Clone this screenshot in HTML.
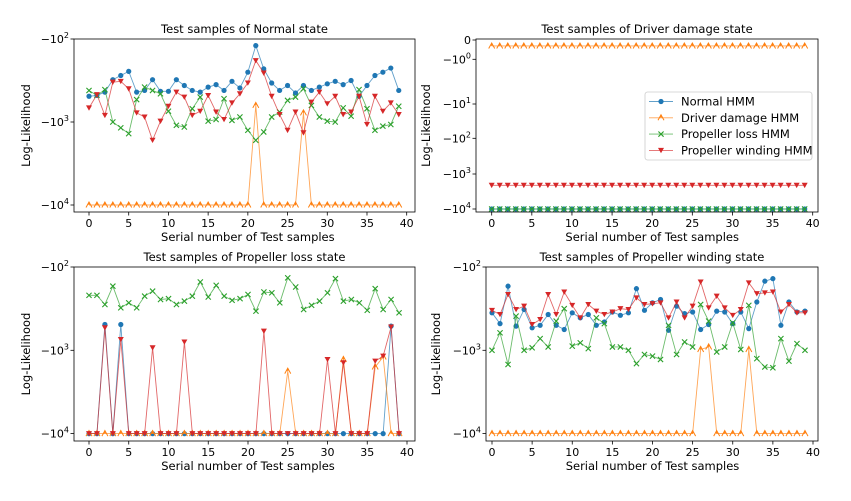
<!DOCTYPE html>
<html><head><meta charset="utf-8"><style>
html,body{margin:0;padding:0;background:#fff;}
svg{display:block;font-family:"DejaVu Sans","Liberation Sans",sans-serif;}
</style></head><body>
<svg id="fig" width="851" height="501" viewBox="0 0 851 501" xmlns="http://www.w3.org/2000/svg"></svg>
<script>
// x categories: serial number of test samples
const samples = Array.from({length:40},(_, i)=>i);
const xTicks = [0,5,10,15,20,25,30,35,40];
// Panel 1: Normal state (values are log10 of -LogLikelihood)
const p1Normal = [2.69,2.68,2.64,2.49,2.44,2.39,2.64,2.62,2.49,2.63,2.63,2.49,2.56,2.62,2.64,2.58,2.55,2.62,2.51,2.59,2.40,2.08,2.36,2.53,2.62,2.56,2.65,2.56,2.62,2.58,2.54,2.51,2.55,2.50,2.69,2.56,2.44,2.40,2.35,2.62];
const p1Driver = [4,4,4,4,4,4,4,4,4,4,4,4,4,4,4,4,4,4,4,4,4,2.80,4,4,4,4,4,2.89,4,4,4,4,4,4,4,4,4,4,4,4];
const p1Loss = [2.62,2.68,2.61,3.00,3.07,3.14,2.73,2.58,2.62,2.66,2.87,3.04,3.06,2.84,2.70,2.99,2.97,2.72,2.98,2.94,3.10,3.22,3.12,2.94,2.88,2.74,2.70,2.60,2.80,2.94,2.99,3.00,2.83,2.93,2.61,2.84,3.10,3.05,3.03,2.81];
const p1Winding = [2.83,2.67,2.92,2.52,2.51,2.60,2.89,2.94,3.22,2.99,2.81,2.64,2.70,2.92,2.87,2.68,2.88,2.97,2.77,2.66,2.53,2.26,2.41,2.69,2.91,3.10,2.88,3.13,2.76,2.64,2.78,2.69,2.91,2.88,2.69,3.03,2.69,2.87,2.77,2.91];
// Panel 2: Driver damage state (raw log-likelihood values)
const p2Normal = Array(40).fill(-10000);
const p2Driver = Array(40).fill(-0.31);
const p2Loss = Array(40).fill(-10000);
const p2Winding = Array(40).fill(-2100);
// Panel 3: Propeller loss state (log10 of -LL)
const p3Normal = [4,4,2.69,4,2.69,4,4,4,4,4,4,4,4,4,4,4,4,4,4,4,4,4,4,4,4,4,4,4,4,4,4,4,4,4,4,4,4,4,2.71,4];
const p3Driver = [4,4,4,4,4,4,4,4,4,4,4,4,4,4,4,4,4,4,4,4,4,4,4,4,4,3.25,4,4,4,4,4,4,3.11,4,4,4,3.20,3.08,4,4];
const p3Loss = [2.34,2.34,2.45,2.23,2.49,2.43,2.49,2.35,2.29,2.39,2.38,2.45,2.41,2.35,2.18,2.36,2.22,2.35,2.40,2.38,2.33,2.53,2.30,2.31,2.43,2.13,2.24,2.51,2.46,2.41,2.31,2.14,2.41,2.39,2.43,2.52,2.26,2.51,2.39,2.55];
const p3Winding = [4,4,2.73,4,2.87,4,4,4,2.97,4,4,4,2.90,4,4,4,4,4,4,4,4,4,2.77,4,4,4,4,4,4,4,3.11,4,3.15,4,4,4,3.13,3.07,2.72,4];
// Panel 4: Propeller winding state (log10 of -LL)
const p4Normal = [2.55,2.68,2.23,2.71,2.51,2.73,2.70,2.57,2.70,2.75,2.55,2.61,2.57,2.70,2.66,2.54,2.58,2.55,2.26,2.52,2.43,2.39,2.76,2.47,2.56,2.54,2.75,2.69,2.53,2.54,2.68,2.54,2.74,2.42,2.17,2.14,2.70,2.42,2.54,2.53];
const p4Driver = [4,4,4,4,4,4,4,4,4,4,4,4,4,4,4,4,4,4,4,4,4,4,4,4,4,4,2.99,2.96,4,4,4,4,2.99,4,4,4,4,4,4,4];
const p4Loss = [3.00,2.79,3.17,2.59,3.00,2.97,2.86,2.96,2.65,2.50,2.95,2.91,2.98,2.61,2.68,2.96,2.96,3.00,3.16,3.05,3.07,3.11,2.70,3.05,2.90,2.96,2.45,2.65,3.02,2.96,2.67,2.99,2.46,3.10,3.20,3.21,2.86,3.13,2.92,3.00];
const p4Winding = [2.52,2.57,2.33,2.51,2.47,2.69,2.63,2.33,2.57,2.30,2.46,2.61,2.45,2.53,2.57,2.54,2.50,2.51,2.37,2.45,2.44,2.43,2.61,2.42,2.61,2.47,2.18,2.49,2.35,2.49,2.58,2.51,2.19,2.32,2.31,2.30,2.54,2.45,2.55,2.55];
const seriesNames = ["Normal HMM","Driver damage HMM","Propeller loss HMM","Propeller winding HMM"];

const NS="http://www.w3.org/2000/svg";
const svg=document.getElementById('fig');
const COLORS=["#1f77b4","#ff7f0e","#2ca02c","#d62728"];
function mk(tag,attrs,parent){const e=document.createElementNS(NS,tag);for(const k in attrs)e.setAttribute(k,attrs[k]);(parent||svg).appendChild(e);return e;}

function logMap(y2,y3){return e=>y2+(e-2)*(y3-y2);}
function p2Map(v){const m=-v;if(m<=1)return 40+m*19.3;const e=Math.log10(m);const a=[59.3,104,138.3,174,209];const i=Math.min(3,Math.floor(e));return a[i]+(e-i)*(a[i+1]-a[i]);}

const panels=[
 {name:"normal-state",title:"Test samples of Normal state",box:[74,415,39,212],x0:89,x40:406.7,ymap:logMap(39,122),yticks:[[2,"2"],[3,"3"],[4,"4"]],data:[p1Normal,p1Driver,p1Loss,p1Winding],ylabX:30},
 {name:"driver-damage-state",title:"Test samples of Driver damage state",box:[476,818,39,212],x0:491.7,x40:812.7,ymap:p2Map,p2:true,data:[p2Normal,p2Driver,p2Loss,p2Winding],ylabX:430},
 {name:"propeller-loss-state",title:"Test samples of Propeller loss state",box:[74,415,267,441],x0:89,x40:407,ymap:logMap(267,350.3),yticks:[[2,"2"],[3,"3"],[4,"4"]],data:[p3Normal,p3Driver,p3Loss,p3Winding],ylabX:30},
 {name:"propeller-winding-state",title:"Test samples of Propeller winding state",box:[486,818,267,441],x0:492,x40:813,ymap:logMap(267,350.3),yticks:[[2,"2"],[3,"3"],[4,"4"]],data:[p4Normal,p4Driver,p4Loss,p4Winding],ylabX:440}
];

function marker(g,k,x,y,c){
 let m;
 if(k===0){m=mk('circle',{cx:x,cy:y,r:2.6,fill:c},g);}
 else if(k===1){m=mk('path',{d:`M${x-3} ${y+2.5}L${x} ${y-3}L${x+3} ${y+2.5}M${x} ${y-3}L${x} ${y}`,stroke:c,'stroke-width':1,fill:'none'},g);}
 else if(k===2){m=mk('path',{d:`M${x-2.6} ${y-2.6}L${x+2.6} ${y+2.6}M${x-2.6} ${y+2.6}L${x+2.6} ${y-2.6}`,stroke:c,'stroke-width':1.1,fill:'none'},g);}
 else {m=mk('path',{d:`M${x-3} ${y-2.5}L${x+3} ${y-2.5}L${x} ${y+2.8}Z`,fill:c},g);}
 return m;
}

panels.forEach(p=>{
 const [bx0,bx1,by0,by1]=p.box;
 const g=mk('g',{});
 
 
 const xs=i=>p.x0+i*(p.x40-p.x0)/40;
 const yv=v=>p.p2?p.ymap(v):p.ymap(v);
 // title
 const t=mk('text',{x:(bx0+bx1)/2,y:by0-6,'text-anchor':'middle','font-size':11.5,fill:'#000'},g);
 t.textContent=p.title;
 
 
 // x ticks
 xTicks.forEach(v=>{
  const x=xs(v);
  mk('line',{x1:x,x2:x,y1:by1,y2:by1+3.5,stroke:'#000','stroke-width':0.8},g);
  const tl=mk('text',{x:x,y:by1+15,'text-anchor':'middle','font-size':11,fill:'#000'},g);
  tl.textContent=String(v);
  
  
 });
 const xl=mk('text',{x:(p.x0+p.x40)/2,y:by1+29,'text-anchor':'middle','font-size':11.5,fill:'#000'},g);
 xl.textContent='Serial number of Test samples';
 
 
 // y ticks
 const yt=p.p2?[[0,null],[-1,"0"],[-10,"1"],[-100,"2"],[-1000,"3"],[-10000,"4"]]:p.yticks.map(a=>[a[0],a[1]]);
 yt.forEach(([v,sup])=>{
  const y=p.p2?p2Map(v):p.ymap(v);
  mk('line',{x1:bx0-3.5,x2:bx0,y1:y,y2:y,stroke:'#000','stroke-width':0.8},g);
  const tl=mk('text',{x:bx0-5,y:y+4,'text-anchor':'end','font-size':11,fill:'#000'},g);
  if(sup===null){tl.textContent='0';}
  else{tl.textContent='\u221210';const s=mk('tspan',{dy:-5,'font-size':8},tl);s.textContent=sup;const s2=mk('tspan',{dy:5,'font-size':1},tl);s2.textContent='\u200b';}
  
  
 });
 const yl=mk('text',{x:p.ylabX,y:(by0+by1)/2,'text-anchor':'middle','font-size':11.5,fill:'#000',transform:`rotate(-90 ${p.ylabX} ${(by0+by1)/2})`},g);
 yl.textContent='Log-Likelihood';
 
 
 // series
 p.data.forEach((arr,k)=>{
  const sg=mk('g',{},g);
  
  
  const pts=samples.map(i=>[xs(i),yv(arr[i])]);
  mk('polyline',{points:pts.map(q=>q.join(',')).join(' '),fill:'none',stroke:COLORS[k],'stroke-width':0.9,'stroke-opacity':0.7},sg);
  pts.forEach(q=>{const m=marker(sg,k,q[0],q[1],COLORS[k]);
   
   });
 });
 const frame=mk('rect',{x:bx0,y:by0,width:bx1-bx0,height:by1-by0,fill:'none',stroke:'#000','stroke-width':0.8},g);
 
 
});

// legend in panel 2
const lg=mk('g',{});


mk('rect',{x:645,y:92,width:167,height:68,rx:2.5,fill:'#fff','fill-opacity':0.85,stroke:'#ccc','stroke-width':0.8},lg);
seriesNames.forEach((n,k)=>{
 const y=101.5+k*16.3;
 const e=mk('g',{},lg);
 
 
 mk('line',{x1:649,x2:673,y1:y,y2:y,stroke:COLORS[k],'stroke-width':0.9,'stroke-opacity':0.7},e);
 marker(e,k,661,y,COLORS[k]);
 const t=mk('text',{x:681,y:y+4,'font-size':11.5,fill:'#000'},e);
 t.textContent=n;
});
</script>
</body></html>
